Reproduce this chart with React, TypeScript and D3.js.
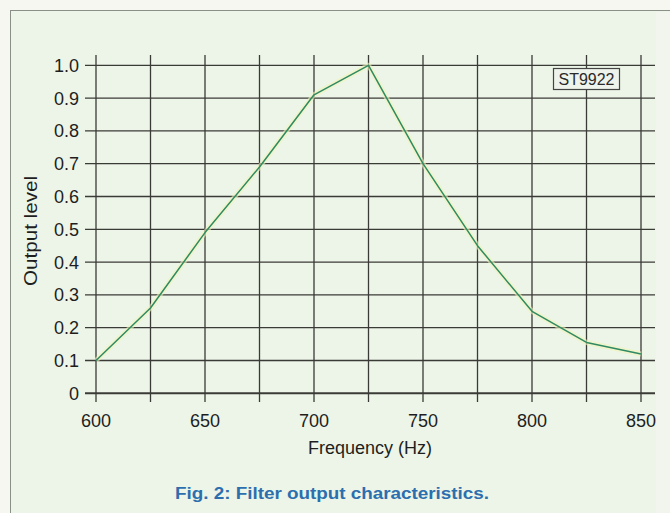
import React from "react";
import * as d3 from "d3";

const freqs = [600, 625, 650, 675, 700, 725, 750, 775, 800, 825, 850];
const levels = [0.1, 0.26, 0.49, 0.69, 0.91, 1.0, 0.7, 0.45, 0.25, 0.155, 0.12];
const xTickLabels = [600, 650, 700, 750, 800, 850];
const yTicks = [0, 0.1, 0.2, 0.3, 0.4, 0.5, 0.6, 0.7, 0.8, 0.9, 1.0];
const xGrid = d3.range(600, 851, 25);

export default function App() {
  const W = 670, H = 513;
  const x = d3.scaleLinear().domain([600, 850]).range([96, 641]);
  const y = d3.scaleLinear().domain([0, 1]).range([393.3, 65.3]);
  const line = d3.line<number>().x((d, i) => x(freqs[i])).y((d) => y(d));
  const path = line(levels) || "";
  const font = "Liberation Sans, Arial, sans-serif";
  return (
    <svg width={W} height={H} style={{ position: "absolute", left: 0, top: 0 }}>
      <rect x={0} y={0} width={W} height={H} fill="#f6f7f1" />
      <rect x={10.5} y={10.5} width={660} height={510} fill="#edf5e8" stroke="#8a8f88" strokeWidth={1} />
      <rect x={656} y={12} width={14} height={501} fill="#f1f5ee" />
      {yTicks.map((t) => (
        <line key={"h" + t} x1={85} x2={655} y1={y(t)} y2={y(t)} stroke="#3a3a36" strokeWidth={t === 0 ? 2 : 1.3} />
      ))}
      {xGrid.map((f) => (
        <line key={"v" + f} x1={x(f)} x2={x(f)} y1={55} y2={402} stroke="#3a3a36" strokeWidth={1.3} />
      ))}
      <path d={path} fill="none" stroke="#f0f3b8" strokeWidth={5} strokeOpacity={0.6} strokeLinejoin="round" />
      <path d={path} fill="none" stroke="#2f8a63" strokeWidth={1.5} strokeLinejoin="round" />
      {yTicks.map((t) => (
        <text key={"yl" + t} x={79} y={y(t) + 6.5} textAnchor="end" fontFamily={font} fontSize={18} fill="#1e1e1e">
          {t === 0 ? "0" : t.toFixed(1)}
        </text>
      ))}
      {xTickLabels.map((f) => (
        <text key={"xl" + f} x={x(f)} y={427} textAnchor="middle" fontFamily={font} fontSize={18} fill="#1e1e1e">
          {f}
        </text>
      ))}
      <text x={370} y={454} textAnchor="middle" fontFamily={font} fontSize={18} fill="#1e1e1e">
        Frequency (Hz)
      </text>
      <text transform="translate(37,231) rotate(-90)" textAnchor="middle" fontFamily={font} fontSize={18} fill="#1e1e1e" textLength={110} lengthAdjust="spacingAndGlyphs">
        Output level
      </text>
      <rect x={553.5} y={68.5} width={66} height={21} fill="#eef3ec" stroke="#444" strokeWidth={1.2} />
      <text x={586.5} y={85} textAnchor="middle" fontFamily={font} fontSize={16} fill="#2a2a2a" textLength={56} lengthAdjust="spacingAndGlyphs">
        ST9922
      </text>
      <text x={332} y={499} textAnchor="middle" fontFamily={font} fontSize={16} fontWeight="bold" fill="#2c6fae" textLength={314} lengthAdjust="spacingAndGlyphs">
        Fig. 2: Filter output characteristics.
      </text>
    </svg>
  );
}
